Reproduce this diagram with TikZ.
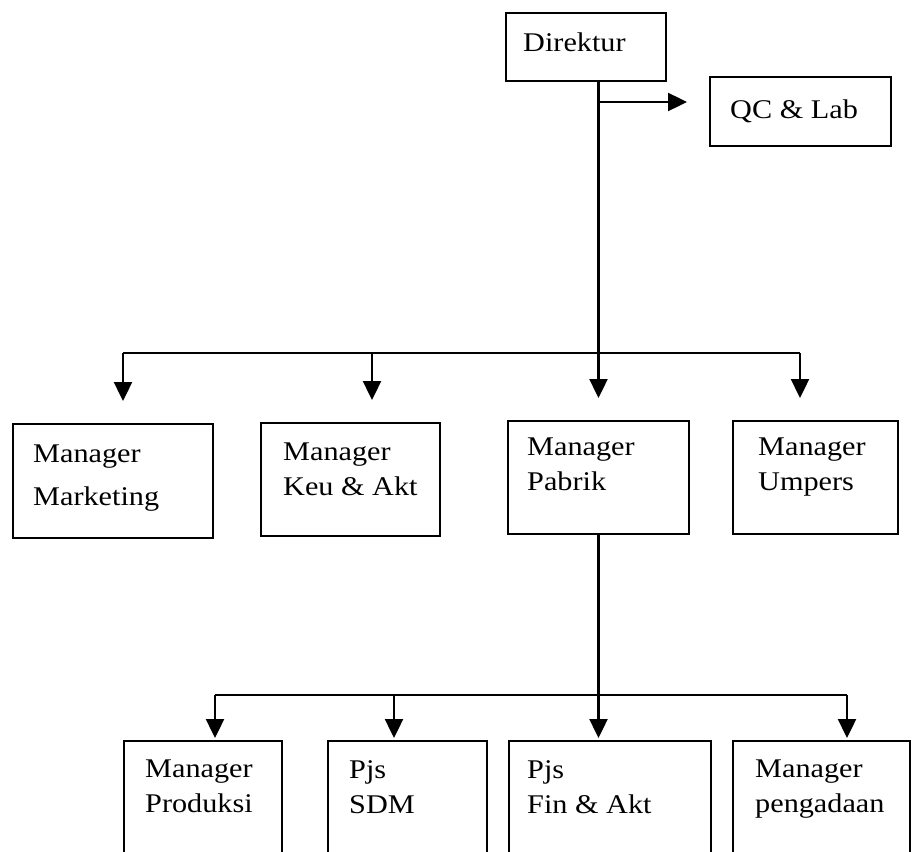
\documentclass[tikz,border=0pt]{standalone}
\usepackage{fontspec}
\setmainfont{Liberation Serif}[FakeStretch=1.12]
\usetikzlibrary{positioning, arrows.meta}

\begin{document}
\begin{tikzpicture}[x=1pt, y=-1pt,
  box/.style={draw, line width=2pt, anchor=north west, inner sep=0pt},
  txt/.style={inner sep=0pt, anchor=north west, align=left,
    font=\fontsize{27}{35}\selectfont},
  conn/.style={line width=2.4pt},
  bus/.style={line width=1.6pt},
  arr/.style={conn, -{Triangle[length=19pt, width=18pt]}}]
\useasboundingbox (0,0) rectangle (912,851);
\clip (0,0) rectangle (912,851);

% top
\node[box, minimum width=160pt, minimum height=68pt] (direktur) at (505,12) {};
\node[txt, below right=21pt and 18pt of direktur.north west] (direktur-t) {Direktur};
\node[box, minimum width=181pt, minimum height=69pt] (qclab) at (709,76) {};
\node[txt, below right=24pt and 21pt of qclab.north west] (qclab-t) {QC \& Lab};

% managers
\node[box, minimum width=200pt, minimum height=114pt] (marketing) at (12,423) {};
\node[txt, below right=22pt and 21pt of marketing.north west,
  font=\fontsize{27}{43}\selectfont] (marketing-t) {Manager\\Marketing};
\node[box, minimum width=179pt, minimum height=113pt] (keu) at (260,422) {};
\node[txt, below right=21pt and 23pt of keu.north west] (keu-t) {Manager\\Keu \& Akt};
\node[box, minimum width=181pt, minimum height=113pt] (pabrik) at (507,420) {};
\node[txt, below right=18pt and 20pt of pabrik.north west] (pabrik-t) {Manager\\Pabrik};
\node[box, minimum width=165pt, minimum height=113pt] (umpers) at (732,420) {};
\node[txt, below right=18pt and 26pt of umpers.north west] (umpers-t) {Manager\\Umpers};

% under pabrik
\node[box, minimum width=158pt, minimum height=160pt] (produksi) at (123,740) {};
\node[txt, below right=20pt and 22pt of produksi.north west] (produksi-t) {Manager\\Produksi};
\node[box, minimum width=159pt, minimum height=160pt] (sdm) at (327,740) {};
\node[txt, below right=20pt and 22pt of sdm.north west] (sdm-t) {Pjs\\SDM};
\node[box, minimum width=202pt, minimum height=160pt] (fin) at (508,740) {};
\node[txt, below right=20pt and 19pt of fin.north west] (fin-t) {Pjs\\Fin \& Akt};
\node[box, minimum width=177pt, minimum height=160pt] (pengadaan) at (732,740) {};
\node[txt, below right=20pt and 23pt of pengadaan.north west] (pengadaan-t) {Manager\\pengadaan};

% lines
\coordinate (qcfork) at (598,102);
\coordinate (b1) at (123,353);
\coordinate (b2) at (372,353);
\coordinate (b4) at (800,353);
\coordinate (c1) at (215,695);
\coordinate (c2) at (394,695);
\coordinate (c4) at (847,695);

\draw[arr, shorten >=22pt] (direktur.south -| pabrik.north) -- (pabrik.north);
\draw[arr, shorten >=22pt] (qcfork) -- (qcfork -| qclab.west);
\draw[bus] (b1) -- (b4);
\foreach \b/\n in {b1/marketing, b2/keu, b4/umpers}
  \draw[arr, shorten >=22pt] (\b) -- (\b |- \n.north);

\draw[arr, shorten >=2pt] (pabrik.south) -- (pabrik.south |- fin.north);
\draw[bus] (c1) -- (c4);
\foreach \c/\n in {c1/produksi, c2/sdm, c4/pengadaan}
  \draw[arr, shorten >=2pt] (\c) -- (\c |- \n.north);
\end{tikzpicture}
\end{document}
